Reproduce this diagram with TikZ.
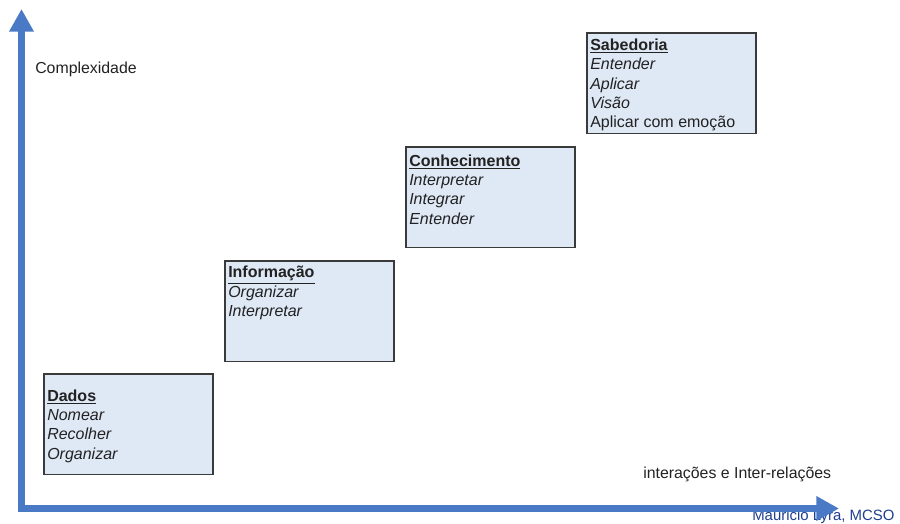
\documentclass[tikz,border=0pt]{standalone}
\usepackage{fontspec}
\setmainfont{Liberation Sans}
\usetikzlibrary{arrows.meta}
\definecolor{axisblue}{HTML}{4A7AC6}
\definecolor{boxfill}{HTML}{DFE8F5}
\definecolor{boxline}{HTML}{3A3A3A}
\definecolor{signblue}{HTML}{1F3F8F}
\definecolor{txt}{HTML}{222222}
\begin{document}
\begin{tikzpicture}[x=0.75pt,y=-0.75pt,
  box/.style={draw=boxline, line width=1.1pt, fill=boxfill, anchor=north west,
    minimum width=126.75pt, minimum height=75.5pt, inner sep=0pt, outer sep=0pt},
  boxtext/.style={anchor=base west, inner sep=0pt, align=left,
    font=\fontsize{12}{14.5}\selectfont, text=txt},
  plain/.style={anchor=base west, inner sep=0pt, font=\fontsize{11.9}{14.5}\selectfont, text=txt},
  axis/.style={draw=axisblue, line width=5.25pt, -{Triangle[length=17pt,width=17.5pt]}}]
\useasboundingbox (0,0) rectangle (900,524);

% boxes
\node[box] (dados) at (44,374) {};
\node[box] (info) at (225,261) {};
\node[box] (conh) at (406,147) {};
\node[box] (sab) at (587,33) {};

% box texts (anchor = baseline of the last line)
\node[boxtext] (dadosT) at (47,459) {\underline{\textbf{Dados}}\\\textit{Nomear}\\\textit{Recolher}\\\textit{Organizar}};
\node[boxtext] (infoT) at (228,316.5) {\underline{\textbf{Informação}}\\\textit{Organizar}\\\textit{Interpretar}};
\node[boxtext] (conhT) at (409,224) {\underline{\textbf{Conhecimento}}\\\textit{Interpretar}\\\textit{Integrar}\\\textit{Entender}};
\node[boxtext] (sabT) at (590,128) {\underline{\textbf{Sabedoria}}\\\textit{Entender}\\\textit{Aplicar}\\\textit{Visão}\\Aplicar com emoção};

% axis labels
\node[plain] (ylab) at (35,74) {Complexidade};
\node[plain] (xlab) at (643,478) {interações e Inter-relações};
\node[anchor=base west, inner sep=0pt, font=\fontsize{11.2}{14}\selectfont, text=signblue] (sign) at (752,520.5) {Mauricio Lyra, MCSO};

% axes
\coordinate (yfoot) at (21.5,512);
\coordinate (ytip) at (21.5,9);
\coordinate (xfoot) at (18,508.5);
\coordinate (xtip) at (839,508.5);
\draw[axis] (yfoot) -- (ytip);
\draw[axis] (xfoot) -- (xtip);
\end{tikzpicture}
\end{document}
